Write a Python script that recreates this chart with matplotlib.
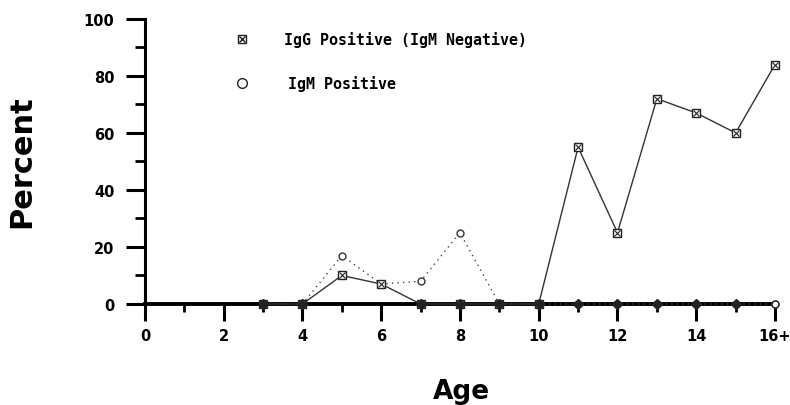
import matplotlib
matplotlib.use("Agg")
import matplotlib.pyplot as plt
from matplotlib.ticker import MultipleLocator

ages = [3, 4, 5, 6, 7, 8, 9, 10, 11, 12, 13, 14, 15, 16]
igg = [0, 0, 10, 7, 0, 0, 0, 0, 55, 25, 72, 67, 60, 84]
igm = [0, 0, 17, 7, 8, 25, 0, 0, 0, 0, 0, 0, 0, 0]
xticks = [0, 2, 4, 6, 8, 10, 12, 14, 16]
xticklabels = ["0", "2", "4", "6", "8", "10", "12", "14", "16+"]
yticks = [0, 20, 40, 60, 80, 100]

fig = plt.figure(figsize=(7.9, 4.06), dpi=100)
ax = fig.add_axes([0.1835, 0.2488, 0.7975, 0.7022])

ax.plot(ages, igm, linestyle=(0, (1, 3)), color="#444444", lw=1.0,
        marker="o", ms=5, mfc="white", mec="#333333", mew=1.0, zorder=3)
ax.plot(ages, igg, linestyle="-", color="#333333", lw=1.0,
        marker="s", ms=6, mfc="white", mec="#222222", mew=1.0, zorder=4)
ax.plot(ages, igg, linestyle="none", marker="x", ms=4, mec="#222222", mew=0.8, zorder=5)

# markers sitting on the axis appear as small dark blobs
zx = [a for a, g, m in zip(ages, igg, igm) if g == 0 or m == 0]
zy = [0 for _ in zx]
ax.plot(zx[:-1], zy[:-1], linestyle="none", marker="D", ms=5, color="#222222", zorder=6)
ax.plot(zx[-1:], zy[-1:], linestyle="none", marker="o", ms=5, mfc="white",
        mec="#222222", zorder=6)

ax.set_xlim(0, 16)
ax.set_ylim(0, 100)
for s in ["top", "right"]:
    ax.spines[s].set_visible(False)
ax.spines["left"].set_linewidth(2.2)
ax.spines["bottom"].set_linewidth(2.8)

lab = dict(family="DejaVu Sans", fontsize=10.5, fontweight="bold")
ax.set_xticks(xticks)
ax.set_xticklabels(xticklabels, **lab)
ax.xaxis.set_minor_locator(MultipleLocator(1))
ax.tick_params(axis="x", which="major", direction="out", length=12, width=2.2, pad=5)
ax.tick_params(axis="x", which="minor", direction="out", length=6, width=2.0)
ax.set_yticks(yticks)
ax.set_yticklabels([str(v) for v in yticks], **lab)
ax.yaxis.set_minor_locator(MultipleLocator(10))
ax.tick_params(axis="y", which="major", direction="out", length=14, width=2.2, pad=8)
ax.tick_params(axis="y", which="minor", direction="out", length=7, width=2.0)
for ln in ax.lines:
    ln.set_clip_on(False)

fig.text(0.028, 0.601, "Percent", rotation=90, fontsize=22, fontweight="bold",
         family="DejaVu Sans", ha="center", va="center")
fig.text(0.584, 0.035, "Age", fontsize=19, fontweight="bold",
         family="DejaVu Sans", ha="center", va="center")

# legend
fig.lines.append(plt.Line2D([242 / 790], [1 - 40 / 406], transform=fig.transFigure,
                            marker="s", ms=6, mfc="white", mec="#222222", ls="none"))
fig.lines.append(plt.Line2D([242 / 790], [1 - 40 / 406], transform=fig.transFigure,
                            marker="x", ms=4, mec="#222222", ls="none"))
fig.lines.append(plt.Line2D([242 / 790], [1 - 84 / 406], transform=fig.transFigure,
                            marker="o", ms=7, mfc="white", mec="#222222", ls="none"))
fig.text(284 / 790, 1 - 40 / 406, "IgG Positive (IgM Negative)", fontsize=10.8,
         fontweight="bold", family="DejaVu Sans Mono", va="center")
fig.text(288 / 790, 1 - 84 / 406, "IgM Positive", fontsize=10.8,
         fontweight="bold", family="DejaVu Sans Mono", va="center")

fig.savefig("out.png", dpi=100)
